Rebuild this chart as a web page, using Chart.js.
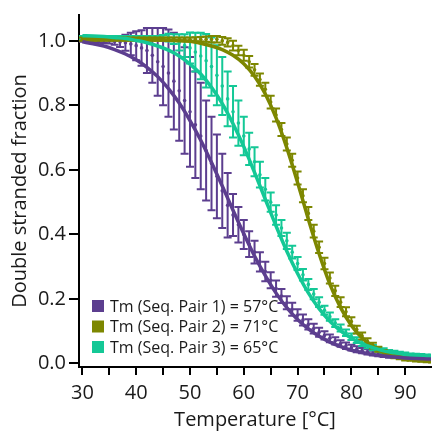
<!DOCTYPE html>
<html>
<head>
<meta charset="utf-8">
<script src="https://cdn.jsdelivr.net/npm/chart.js@4.4.0/dist/chart.umd.min.js"></script>
<style>
  html, body { margin: 0; padding: 0; background: #fff; }
  #wrap { width: 435px; height: 432px; }
</style>
</head>
<body>
<div id="wrap"><canvas id="meltChart" width="435" height="432"></canvas></div>
<script>
// measured points, one per degree
const temps = [30, 31, 32, 33, 34, 35, 36, 37, 38, 39, 40, 41, 42, 43, 44, 45, 46, 47, 48, 49,
    50, 51, 52, 53, 54, 55, 56, 57, 58, 59, 60, 61, 62, 63, 64, 65, 66, 67, 68, 69,
    70, 71, 72, 73, 74, 75, 76, 77, 78, 79, 80, 81, 82, 83, 84, 85, 86, 87, 88, 89,
    90, 91, 92, 93, 94, 95];

const meanPair1 = [1.000, 1.000, 1.000, 1.000, 1.000, 1.000, 0.998, 0.996, 0.994, 0.990,
    0.985, 0.978, 0.970, 0.955, 0.935, 0.920, 0.900, 0.875, 0.845, 0.815,
    0.780, 0.740, 0.705, 0.660, 0.620, 0.580, 0.535, 0.490, 0.460, 0.430,
    0.400, 0.370, 0.345, 0.315, 0.285, 0.258, 0.232, 0.209, 0.188, 0.168,
    0.150, 0.135, 0.121, 0.108, 0.097, 0.087, 0.078, 0.070, 0.062, 0.055,
    0.049, 0.044, 0.040, 0.036, 0.032, 0.029, 0.026, 0.024, 0.022, 0.020,
    0.018, 0.017, 0.016, 0.015, 0.014, 0.013];
const errPair1 = [0.003, 0.004, 0.005, 0.006, 0.007, 0.008, 0.010, 0.015, 0.025, 0.035,
    0.045, 0.055, 0.070, 0.085, 0.105, 0.120, 0.135, 0.150, 0.155, 0.165,
    0.170, 0.165, 0.165, 0.155, 0.145, 0.130, 0.115, 0.100, 0.065, 0.055,
    0.045, 0.040, 0.035, 0.030, 0.030, 0.025, 0.025, 0.022, 0.020, 0.020,
    0.018, 0.017, 0.016, 0.015, 0.014, 0.013, 0.012, 0.011, 0.010, 0.010,
    0.009, 0.009, 0.008, 0.008, 0.007, 0.007, 0.006, 0.006, 0.005, 0.005,
    0.005, 0.004, 0.004, 0.004, 0.004, 0.004];

const meanPair2 = [1.005, 1.005, 1.005, 1.005, 1.005, 1.005, 1.005, 1.005, 1.005, 1.005,
    1.005, 1.005, 1.005, 1.005, 1.005, 1.005, 1.005, 1.005, 1.005, 1.005,
    1.005, 1.005, 1.005, 1.005, 1.005, 1.005, 1.000, 0.995, 0.985, 0.970,
    0.955, 0.935, 0.910, 0.880, 0.850, 0.810, 0.770, 0.725, 0.680, 0.630,
    0.575, 0.520, 0.465, 0.410, 0.360, 0.310, 0.265, 0.225, 0.190, 0.160,
    0.130, 0.105, 0.085, 0.068, 0.055, 0.044, 0.035, 0.028, 0.022, 0.018,
    0.014, 0.012, 0.010, 0.009, 0.008, 0.007];
const errPair2 = [0.005, 0.005, 0.005, 0.005, 0.005, 0.005, 0.005, 0.005, 0.005, 0.005,
    0.005, 0.005, 0.005, 0.005, 0.005, 0.005, 0.005, 0.005, 0.005, 0.005,
    0.005, 0.006, 0.007, 0.008, 0.010, 0.010, 0.012, 0.013, 0.015, 0.015,
    0.017, 0.018, 0.018, 0.019, 0.020, 0.020, 0.020, 0.020, 0.020, 0.020,
    0.020, 0.020, 0.020, 0.020, 0.018, 0.018, 0.017, 0.016, 0.015, 0.014,
    0.013, 0.012, 0.011, 0.010, 0.009, 0.008, 0.007, 0.006, 0.006, 0.005,
    0.005, 0.004, 0.004, 0.004, 0.004, 0.004];

const meanPair3 = [1.010, 1.010, 1.010, 1.010, 1.010, 1.010, 1.010, 1.010, 1.010, 1.010,
    1.010, 1.010, 1.010, 1.010, 1.010, 1.010, 1.010, 1.005, 0.995, 0.985,
    0.978, 0.965, 0.953, 0.938, 0.920, 0.893, 0.860, 0.820, 0.780, 0.745,
    0.705, 0.665, 0.625, 0.585, 0.540, 0.500, 0.460, 0.420, 0.380, 0.345,
    0.310, 0.275, 0.245, 0.215, 0.190, 0.165, 0.145, 0.125, 0.110, 0.095,
    0.083, 0.072, 0.063, 0.055, 0.049, 0.044, 0.040, 0.036, 0.033, 0.031,
    0.029, 0.027, 0.026, 0.025, 0.024, 0.023];
const errPair3 = [0.005, 0.005, 0.005, 0.005, 0.005, 0.005, 0.005, 0.005, 0.005, 0.005,
    0.005, 0.005, 0.005, 0.005, 0.005, 0.008, 0.012, 0.015, 0.025, 0.035,
    0.048, 0.060, 0.072, 0.083, 0.090, 0.093, 0.090, 0.085, 0.080, 0.070,
    0.060, 0.050, 0.045, 0.040, 0.035, 0.030, 0.030, 0.025, 0.025, 0.020,
    0.020, 0.018, 0.017, 0.016, 0.015, 0.014, 0.013, 0.012, 0.011, 0.010,
    0.010, 0.009, 0.009, 0.008, 0.008, 0.007, 0.007, 0.006, 0.006, 0.005,
    0.005, 0.004, 0.004, 0.004, 0.004, 0.004];

// fitted melting curves, read every 2 degrees
const fitTemps = [30, 32, 34, 36, 38, 40, 42, 44, 46, 48, 50, 52, 54, 56, 58, 60, 62,
    64, 66, 68, 70, 72, 74, 76, 78, 80, 82, 84, 86, 88, 90, 92, 94, 95];
const fitPair1 = [0.997, 0.991, 0.984, 0.973, 0.959, 0.941, 0.918, 0.889, 0.852, 0.807,
    0.753, 0.692, 0.623, 0.550, 0.475, 0.402, 0.333, 0.272, 0.218, 0.173,
    0.136, 0.107, 0.084, 0.066, 0.052, 0.041, 0.034, 0.028, 0.023, 0.020,
    0.017, 0.015, 0.014, 0.0135];
const fitPair2 = [1.005, 1.005, 1.005, 1.005, 1.004, 1.004, 1.003, 1.003, 1.002, 1.000,
    0.999, 0.992, 0.984, 0.973, 0.955, 0.929, 0.890, 0.835, 0.761, 0.668,
    0.561, 0.447, 0.340, 0.246, 0.173, 0.118, 0.079, 0.053, 0.035, 0.024,
    0.016, 0.011, 0.008, 0.007];
const fitPair3 = [1.016, 1.015, 1.013, 1.010, 1.007, 1.001, 0.994, 0.984, 0.971, 0.953,
    0.928, 0.897, 0.856, 0.805, 0.743, 0.672, 0.592, 0.509, 0.426, 0.348,
    0.279, 0.219, 0.170, 0.131, 0.101, 0.078, 0.061, 0.049, 0.039, 0.033,
    0.028, 0.024, 0.022, 0.021];

const seriesLabels = ['Tm (Seq. Pair 1) = 57°C', 'Tm (Seq. Pair 2) = 71°C', 'Tm (Seq. Pair 3) = 65°C'];
const seriesColors = ['#5c3e8f', '#7d8700', '#14c896'];

const xTicks = [30, 35, 40, 45, 50, 55, 60, 65, 70, 75, 80, 85, 90];
const yTicks = [0, 0.2, 0.4, 0.6, 0.8, 1.0];

const toPoints = (xs, ys) => xs.map((x, i) => ({ x: x, y: ys[i] }));

// vertical error bars with caps, drawn under each scatter dataset
const errorBarPlugin = {
    id: 'errorBars',
    beforeDatasetDraw(chart, args) {
        const ds = chart.data.datasets[args.index];
        if (!ds.errors) return;
        const { ctx, chartArea } = chart;
        const xScale = chart.scales.x;
        const yScale = chart.scales.y;
        ctx.save();
        ctx.beginPath();
        ctx.rect(chartArea.left, chartArea.top, chartArea.right - chartArea.left, chartArea.bottom - chartArea.top);
        ctx.clip();
        ctx.strokeStyle = ds.borderColor;
        ctx.lineWidth = 2;
        ds.data.forEach((pt, i) => {
            const e = ds.errors[i];
            const px = xScale.getPixelForValue(pt.x);
            const top = yScale.getPixelForValue(pt.y + e);
            const bot = yScale.getPixelForValue(pt.y - e);
            ctx.beginPath();
            ctx.moveTo(px, top);
            ctx.lineTo(px, bot);
            ctx.moveTo(px - 4, top);
            ctx.lineTo(px + 4, top);
            ctx.moveTo(px - 4, bot);
            ctx.lineTo(px + 4, bot);
            ctx.stroke();
        });
        ctx.restore();
    }
};

// legend sits inside the plot, lower left
const insideLegend = {
    id: 'insideLegend',
    afterDraw(chart) {
        const { ctx, chartArea } = chart;
        ctx.save();
        ctx.font = '16px "Open Sans", "Noto Sans", sans-serif';
        ctx.textBaseline = 'middle';
        ctx.textAlign = 'left';
        seriesLabels.forEach((label, i) => {
            const y = chartArea.bottom - 61 + i * 20.5;
            ctx.fillStyle = seriesColors[i];
            ctx.fillRect(chartArea.left + 13, y - 6, 12, 12);
            ctx.fillStyle = '#1a1a1a';
            ctx.fillText(label, chartArea.left + 31, y + 1);
        });
        ctx.restore();
    }
};

Chart.defaults.font.family = '"Open Sans", "Noto Sans", sans-serif';
Chart.defaults.color = '#1a1a1a';

const fitData = [fitPair1, fitPair2, fitPair3];
const meanData = [meanPair1, meanPair2, meanPair3];
const errData = [errPair1, errPair2, errPair3];
const fitOrder = [1, 3, 2];
const dataOrder = [6, 4, 5];

const datasets = [];
[0, 1, 2].forEach(i => {
    datasets.push({
        type: 'line',
        label: seriesLabels[i] + ' fit',
        data: toPoints(fitTemps, fitData[i]),
        borderColor: seriesColors[i],
        borderWidth: 3.5,
        pointRadius: 0,
        cubicInterpolationMode: 'monotone',
        fill: false,
        order: fitOrder[i],
    });
    datasets.push({
        type: 'scatter',
        label: seriesLabels[i],
        data: toPoints(temps, meanData[i]),
        errors: errData[i],
        borderColor: seriesColors[i],
        backgroundColor: seriesColors[i],
        pointRadius: 1.8,
        borderWidth: 0,
        order: dataOrder[i],
    });
});

new Chart(document.getElementById('meltChart').getContext('2d'), {
    type: 'scatter',
    data: { datasets: datasets },
    plugins: [errorBarPlugin, insideLegend],
    options: {
        responsive: false,
        animation: false,
        devicePixelRatio: 1,
        layout: { padding: { top: 14, right: 0, bottom: 0, left: 0 } },
        plugins: {
            legend: { display: false },
            tooltip: { enabled: false },
        },
        scales: {
            x: {
                type: 'linear',
                min: 29.37,
                max: 94.8,
                afterBuildTicks: s => { s.ticks = xTicks.map(v => ({ value: v })); },
                afterFit: s => { s.height = 65; },
                grid: { drawOnChartArea: false, tickLength: 8, color: '#000', lineWidth: 2 },
                border: { color: '#000', width: 2 },
                ticks: {
                    font: { size: 20 },
                    padding: 6,
                    maxRotation: 0,
                    autoSkip: false,
                    callback: v => (v % 10 === 0 ? String(v) : ''),
                },
                title: {
                    display: true,
                    text: 'Temperature [°C]',
                    font: { size: 20 },
                    padding: { top: 0, bottom: 0 },
                },
            },
            y: {
                type: 'linear',
                min: -0.011,
                max: 1.08,
                afterBuildTicks: s => { s.ticks = yTicks.map(v => ({ value: v })); },
                afterFit: s => { s.width = 79; },
                grid: { drawOnChartArea: false, tickLength: 10, color: '#000', lineWidth: 2 },
                border: { color: '#000', width: 2 },
                ticks: {
                    font: { size: 20 },
                    padding: 3,
                    callback: v => v.toFixed(1),
                },
                title: {
                    display: true,
                    text: 'Double stranded fraction',
                    font: { size: 20 },
                    padding: { top: 8, bottom: 0 },
                },
            },
        },
    },
});
</script>
</body>
</html>
